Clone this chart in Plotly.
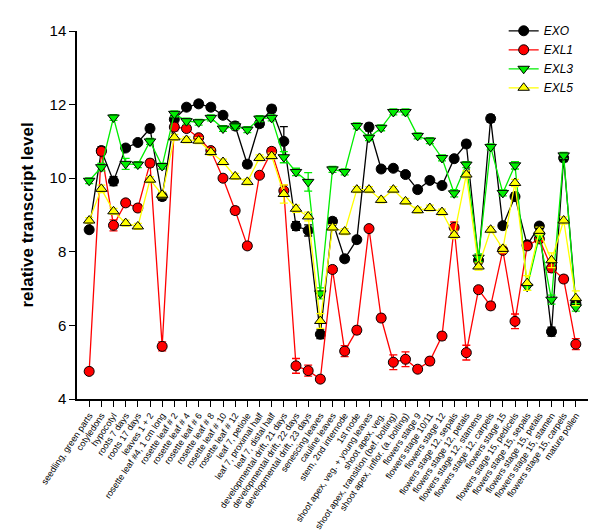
import plotly.graph_objects as go

# tissue categories along the x axis
categories = [
    "seedling, green parts", "cotyledons", "hypocotyl", "roots 7 days", "roots 17 days",
    "leaves 1 + 2", "rosette leaf #4, 1 cm long", "rosette leaf # 2", "rosette leaf # 4",
    "rosette leaf # 6", "rosette leaf # 8", "rosette leaf # 10", "rosette leaf # 12",
    "leaf 7, petiole", "leaf 7, proximal half", "leaf 7, distal half",
    "developmental drift, 21 days", "developmental drift, 22 days",
    "developmental drift, 23 days", "senescing leaves", "cauline leaves",
    "stem, 2nd internode", "1st node", "shoot apex, veg. + young leaves",
    "shoot apex, veg.", "shoot apex, transition (bef. bolting)",
    "shoot apex, inflor. (a. bolting)", "flowers stage 9", "flowers stage 10/11",
    "flowers stage 12", "flowers stage 12, sepals", "flowers stage 12, petals",
    "flowers stage 12, stamens", "flowers stage 12, carpels", "flowers stage 15",
    "flowers stage 15, pedicels", "flowers stage 15, sepals", "flowers stage 15, petals",
    "flowers stage 15, stamen", "flowers stage 15, carpels", "mature pollen",
]

exo = [8.6, 10.75, 9.92, 10.82, 10.97, 11.35, 9.5, 11.6, 11.93, 12.02, 11.93, 11.71,
       11.42, 10.38, 11.48, 11.88, 11.0, 8.7, 8.58, 5.76, 8.83, 7.81, 8.33, 11.39,
       10.25, 10.27, 10.1, 9.69, 9.94, 9.8, 10.53, 10.93, 7.77, 11.62, 8.71, 9.5,
       8.19, 8.7, 5.83, 10.55, 6.6]
exo_err = [0.08, 0.1, 0.12, 0.08, 0.08, 0.1, 0.1, 0.1, 0.08, 0.08, 0.08, 0.08,
           0.1, 0.1, 0.1, 0.1, 0.4, 0.12, 0.15, 0.12, 0.1, 0.08, 0.08, 0.1,
           0.08, 0.08, 0.08, 0.08, 0.08, 0.08, 0.08, 0.1, 0.1, 0.1, 0.08, 0.1,
           0.08, 0.08, 0.12, 0.1, 0.1]

exl1 = [4.75, 10.73, 8.72, 9.33, 9.19, 10.41, 5.43, 11.39, 11.35, 11.1, 10.75, 10.0,
        9.12, 8.16, 10.08, 10.73, 9.66, 4.9, 4.77, 4.54, 7.52, 5.3, 5.87, 8.63,
        6.2, 5.0, 5.08, 4.81, 5.03, 5.71, 8.66, 5.26, 6.97, 6.53, 8.04, 6.11,
        8.16, 8.35, 7.56, 7.26, 5.49]
exl1_err = [0.08, 0.1, 0.15, 0.08, 0.1, 0.1, 0.12, 0.1, 0.08, 0.08, 0.08, 0.08,
            0.1, 0.08, 0.08, 0.1, 0.15, 0.2, 0.15, 0.08, 0.08, 0.15, 0.1, 0.08,
            0.1, 0.2, 0.2, 0.08, 0.1, 0.1, 0.15, 0.2, 0.08, 0.1, 0.08, 0.2,
            0.1, 0.1, 0.12, 0.1, 0.15]

exl3 = [9.93, 10.3, 11.65, 10.39, 10.37, 11.0, 10.33, 11.75, 11.55, 11.52, 11.64,
        11.35, 11.41, 11.32, 11.62, 11.64, 10.57, 10.17, 9.9, 6.87, 10.24, 10.17,
        11.42, 11.1, 11.37, 11.8, 11.8, 11.15, 11.02, 10.55, 9.59, 10.37, 7.84,
        10.85, 9.6, 10.35, 7.05, 8.42, 6.7, 10.62, 6.49]
exl3_err = [0.08, 0.1, 0.08, 0.15, 0.08, 0.08, 0.08, 0.08, 0.08, 0.08, 0.08,
            0.08, 0.08, 0.08, 0.08, 0.08, 0.15, 0.1, 0.25, 0.15, 0.08, 0.08,
            0.08, 0.08, 0.08, 0.08, 0.08, 0.08, 0.08, 0.08, 0.1, 0.08, 0.1,
            0.08, 0.08, 0.1, 0.1, 0.08, 0.12, 0.08, 0.1]

exl5 = [8.85, 9.71, 9.1, 8.78, 8.69, 9.96, 9.55, 11.11, 11.04, 11.02, 10.71, 10.44,
        10.05, 9.9, 10.55, 10.6, 9.57, 9.17, 8.96, 6.12, 8.66, 8.55, 9.69, 9.69,
        9.41, 9.69, 9.37, 9.13, 9.19, 9.08, 8.46, 10.1, 7.6, 8.6, 8.08, 9.87,
        7.15, 8.57, 7.77, 8.85, 6.74]
exl5_err = [0.08, 0.1, 0.08, 0.08, 0.08, 0.08, 0.08, 0.08, 0.08, 0.08, 0.08, 0.08,
            0.08, 0.08, 0.08, 0.08, 0.25, 0.1, 0.12, 0.2, 0.08, 0.08, 0.08, 0.08,
            0.08, 0.08, 0.08, 0.08, 0.08, 0.08, 0.1, 0.1, 0.1, 0.08, 0.1, 0.1,
            0.2, 0.1, 0.2, 0.1, 0.2]

x = list(range(len(categories)))

series = [
    ("EXO", exo, exo_err, "#000000", "#000000", "circle"),
    ("EXL1", exl1, exl1_err, "#ff0000", "#ff0000", "circle"),
    ("EXL3", exl3, exl3_err, "#00ee00", "#00ee00", "triangle-down"),
    ("EXL5", exl5, exl5_err, "#ffff00", "#ffff00", "triangle-up"),
]

fig = go.Figure()
for name, vals, errs, line_col, fill_col, sym in series:
    fig.add_trace(go.Scatter(
        x=x, y=vals, name="<i>" + name + "</i>", mode="lines+markers",
        line=dict(color=line_col, width=1.3),
        marker=dict(symbol=sym, size=10, color=fill_col,
                    line=dict(color="#000000", width=1)),
        error_y=dict(type="data", array=errs, color=line_col, thickness=1.3, width=4),
    ))

fig.update_layout(
    width=600, height=531,
    margin=dict(l=69, r=20, t=23, b=140, autoexpand=False),
    plot_bgcolor="white", paper_bgcolor="white",
    font=dict(family="Arial, Liberation Sans, sans-serif", color="#000000"),
    showlegend=True,
    legend=dict(x=0.835, y=1.04, xanchor="left", yanchor="top",
                font=dict(size=12), bgcolor="rgba(0,0,0,0)",
                tracegroupgap=0, itemwidth=30),
    xaxis=dict(
        range=[-1, 41], tickmode="array", tickvals=x, ticktext=categories,
        tickangle=-56, tickfont=dict(size=9), ticks="outside", ticklen=6,
        tickcolor="#000000", showline=True, linecolor="#000000", linewidth=1.5,
        showgrid=False, zeroline=False,
    ),
    yaxis=dict(
        range=[4, 14], dtick=2, ticks="outside", ticklen=6, tickcolor="#000000",
        tickfont=dict(size=15), showline=True, linecolor="#000000", linewidth=1.5,
        showgrid=False, zeroline=False,
        title=dict(text="<b>relative transcript level</b>", font=dict(size=17),
                   standoff=12),
    ),
)

fig.write_html("out.html")
